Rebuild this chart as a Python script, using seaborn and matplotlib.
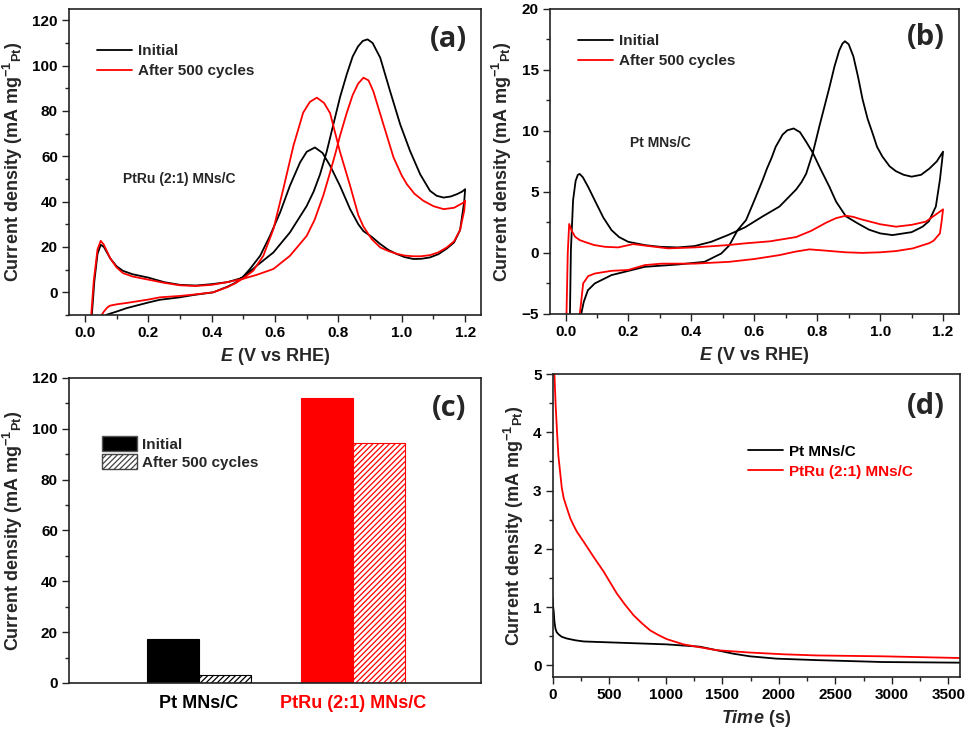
import numpy as np
import pandas as pd
import matplotlib
matplotlib.use("Agg")
import matplotlib.pyplot as plt
import seaborn as sns
from matplotlib.ticker import MultipleLocator
from matplotlib.patches import Patch

# ---------------- (a) PtRu (2:1) MNs/C cyclic voltammograms ----------------
a_init_fwd_E = [0.020, 0.022, 0.030, 0.040, 0.050, 0.060, 0.080, 0.100, 0.120, 0.150, 0.200, 0.250,
                0.300, 0.350, 0.400, 0.450, 0.500, 0.542, 0.595, 0.647, 0.700, 0.722, 0.742, 0.763,
                0.784, 0.805, 0.826, 0.845, 0.862, 0.877, 0.892, 0.908, 0.932, 0.963, 0.995, 1.026,
                1.058, 1.089, 1.110, 1.132, 1.155, 1.174, 1.190, 1.200]
a_init_fwd_j = [-15, -10, 5, 17, 21, 20, 15, 11.5, 9.5, 8, 6.5, 4.5,
                3.3, 3.0, 3.6, 4.5, 6.5, 11.7, 17.6, 26.4, 38.1, 44.5, 52, 62,
                74, 86, 96, 104, 108.5, 110.9, 111.6, 110, 103.5, 88.8, 74.1, 62.4,
                52.1, 44.8, 42.6, 41.8, 42.3, 43.3, 44.4, 45.5]
a_init_bwd_E = [1.200, 1.197, 1.184, 1.165, 1.142, 1.115, 1.089, 1.062, 1.037, 1.010, 0.984, 0.958,
                0.932, 0.905, 0.879, 0.863, 0.837, 0.805, 0.774, 0.750, 0.726, 0.700, 0.679, 0.647,
                0.616, 0.584, 0.553, 0.521, 0.500, 0.475, 0.450, 0.405, 0.342, 0.300, 0.236, 0.200,
                0.131, 0.100, 0.068, 0.060]
a_init_bwd_j = [45.5, 40, 27.5, 22, 19.3, 16.8, 15.4, 14.8, 14.7, 15.5, 16.9, 18.7,
                21.3, 24.5, 27, 30, 36.7, 47, 55.8, 61.5, 63.9, 62, 57.3, 47,
                35.2, 24.9, 16.1, 10.3, 7.0, 4.2, 2.5, 0, -1.2, -2.2, -3.3, -4.5,
                -7, -8.5, -9.9, -11.5]

a_aged_fwd_E = [0.018, 0.020, 0.028, 0.040, 0.050, 0.060, 0.080, 0.100, 0.120, 0.150, 0.200, 0.250,
                0.300, 0.350, 0.400, 0.450, 0.500, 0.542, 0.595, 0.647, 0.700, 0.725, 0.753, 0.774,
                0.790, 0.805, 0.826, 0.845, 0.862, 0.879, 0.895, 0.910, 0.942, 0.974, 1.000, 1.016,
                1.040, 1.068, 1.100, 1.132, 1.165, 1.195, 1.200]
a_aged_fwd_j = [-15, -10, 5, 19, 22.7, 21, 15, 11, 8.5, 7, 5.6, 4.2,
                3.1, 2.8, 3.3, 4.5, 6, 7.7, 10.3, 16.1, 24.9, 32, 43, 53,
                61, 69, 79, 87, 92, 94.7, 93.5, 88.8, 74.1, 59.5, 51.5, 47.7,
                43.5, 40.4, 38, 36.7, 37.3, 39.6, 40.4]
a_aged_bwd_E = [1.200, 1.197, 1.184, 1.165, 1.142, 1.115, 1.089, 1.060, 1.037, 1.010, 0.984, 0.958,
                0.932, 0.905, 0.879, 0.863, 0.837, 0.805, 0.774, 0.755, 0.732, 0.710, 0.689, 0.658,
                0.626, 0.595, 0.563, 0.531, 0.500, 0.475, 0.450, 0.405, 0.342, 0.300, 0.237, 0.200,
                0.131, 0.100, 0.079, 0.070, 0.060, 0.053, 0.048]
a_aged_bwd_j = [40.4, 36, 27.5, 22.5, 19.8, 17.6, 16.4, 15.9, 15.9, 16.2, 17, 18.2,
                19.8, 23.5, 29, 34, 47, 62, 79, 83.5, 85.9, 84, 79.3, 64.6,
                45.5, 27.9, 16.1, 9.5, 6.2, 4, 2.3, 0, -1, -1.6, -2.2, -3.2,
                -4.7, -5.3, -5.9, -6.8, -8.5, -10, -12]

# ---------------- (b) Pt MNs/C cyclic voltammograms ----------------
b_init_fwd_E = [0.012, 0.014, 0.017, 0.024, 0.032, 0.039, 0.045, 0.055, 0.072, 0.093, 0.120, 0.146,
                0.170, 0.199, 0.252, 0.300, 0.357, 0.410, 0.463, 0.516, 0.570, 0.627, 0.680, 0.733,
                0.750, 0.765, 0.786, 0.807, 0.825, 0.839, 0.855, 0.870, 0.880, 0.888, 0.900, 0.915,
                0.930, 0.944, 0.960, 0.976, 0.990, 1.007, 1.030, 1.050, 1.075, 1.100, 1.130, 1.156,
                1.180, 1.200]
b_init_fwd_j = [-6, -5, 0.23, 4.34, 5.9, 6.4, 6.47, 6.2, 5.4, 4.3, 2.9, 1.87,
                1.3, 0.91, 0.64, 0.5, 0.45, 0.56, 0.91, 1.46, 2.09, 3.0, 3.8, 5.2,
                5.8, 6.5, 8.2, 10.4, 12.2, 13.6, 15.3, 16.6, 17.15, 17.35, 17.1, 16.1,
                14.4, 12.6, 11.0, 9.8, 8.7, 7.9, 7.1, 6.7, 6.4, 6.25, 6.4, 6.9,
                7.5, 8.3]
b_init_bwd_E = [1.200, 1.190, 1.177, 1.155, 1.135, 1.100, 1.039, 1.000, 0.965, 0.930, 0.891, 0.860,
                0.839, 0.810, 0.786, 0.765, 0.745, 0.725, 0.705, 0.690, 0.668, 0.655, 0.640, 0.627,
                0.600, 0.574, 0.547, 0.520, 0.495, 0.442, 0.357, 0.252, 0.146, 0.093, 0.071, 0.058,
                0.050, 0.047]
b_init_bwd_j = [8.3, 6.0, 3.8, 2.6, 2.15, 1.7, 1.46, 1.6, 1.9, 2.4, 3.0, 4.2,
                5.4, 6.9, 8.2, 9.1, 9.9, 10.2, 10.05, 9.7, 8.7, 7.8, 6.9, 6.0,
                4.3, 2.7, 1.87, 0.6, -0.05, -0.73, -0.95, -1.14, -1.82, -2.5, -3.06, -4.0,
                -4.97, -6]

b_aged_fwd_E = [0.002, 0.003, 0.007, 0.0115, 0.020, 0.030, 0.045, 0.061, 0.090, 0.125, 0.167, 0.215,
                0.252, 0.326, 0.410, 0.516, 0.570, 0.650, 0.733, 0.780, 0.830, 0.860, 0.891, 0.915,
                0.940, 1.000, 1.050, 1.100, 1.145, 1.200]
b_aged_fwd_j = [-6, -5, 0, 2.37, 1.8, 1.33, 1.05, 0.9, 0.65, 0.5, 0.45, 0.72,
                0.6, 0.37, 0.45, 0.64, 0.78, 0.95, 1.3, 1.8, 2.5, 2.85, 3.05, 2.95,
                2.75, 2.35, 2.15, 2.3, 2.56, 3.57]
b_aged_bwd_E = [1.200, 1.195, 1.190, 1.170, 1.156, 1.104, 1.050, 1.000, 0.944, 0.890, 0.820, 0.775,
                0.730, 0.680, 0.600, 0.521, 0.410, 0.305, 0.252, 0.199, 0.146, 0.093, 0.072, 0.056,
                0.048, 0.045, 0.044]
b_aged_bwd_j = [3.57, 2.5, 1.6, 1.0, 0.8, 0.37, 0.15, 0.05, 0.0, 0.05, 0.2, 0.29,
                0.1, -0.18, -0.5, -0.73, -0.88, -0.88, -1.0, -1.4, -1.47, -1.69, -1.9, -2.5,
                -4.4, -5, -6]

# ---------------- (c) bar chart ----------------
catalysts = ["Pt MNs/C", "PtRu (2:1) MNs/C"]
states = ["Initial", "After 500 cycles"]
initial_vals = [17.35, 112.0]
after_vals = [3.1, 94.6]

# ---------------- (d) chronoamperometry ----------------
d_pt_t = [0, 4, 9, 15, 24, 35, 53, 80, 126, 200, 274, 568, 1009, 1303, 1450, 1597, 1744, 1979,
          2332, 2920, 3600]
d_pt_j = [1.15, 1.0, 0.92, 0.75, 0.63, 0.57, 0.53, 0.49, 0.46, 0.43, 0.41, 0.39, 0.36, 0.32,
          0.26, 0.20, 0.155, 0.115, 0.09, 0.057, 0.046]
d_ptru_t = [5, 15, 25, 38, 50, 68, 80, 97, 125, 156, 185, 215, 274, 362, 450, 568, 640, 715, 790,
            862, 935, 1009, 1156, 1450, 1744, 2038, 2332, 2920, 3600]
d_ptru_j = [5.6, 5.0, 4.5, 4.01, 3.6, 3.27, 3.05, 2.87, 2.7, 2.52, 2.4, 2.29, 2.12, 1.86, 1.61,
            1.23, 1.04, 0.86, 0.72, 0.60, 0.52, 0.45, 0.36, 0.26, 0.22, 0.19, 0.17, 0.155, 0.126]

# ---------------- style ----------------
sns.set_theme(style="white")
plt.rcParams.update({
    "font.family": ["Liberation Sans", "DejaVu Sans"],
    "font.weight": "bold",
    "axes.labelweight": "bold",
    "mathtext.fontset": "custom",
    "mathtext.rm": "Liberation Sans:bold",
    "mathtext.bf": "Liberation Sans:bold",
    "mathtext.it": "Liberation Sans:italic:bold",
    "mathtext.default": "rm",
    "axes.edgecolor": "#222222",
    "axes.linewidth": 1.2,
    "hatch.linewidth": 0.9,
})

RED = "#ff0000"
YLAB = r"Current density (mA mg$^{-1}$$_{\mathrm{Pt}}$)"
TICK_FS = 11
LAB_FS = 13
LEG_FS = 11

fig = plt.figure(figsize=(9.68, 7.30), dpi=100)
ax_a = fig.add_axes([0.0713, 0.5685, 0.4256, 0.4192])
ax_b = fig.add_axes([0.5680, 0.5700, 0.4225, 0.4178])
ax_c = fig.add_axes([0.0713, 0.0644, 0.4256, 0.4178])
ax_d = fig.add_axes([0.5710, 0.0726, 0.4205, 0.4150])


def style_ax(ax, xmaj=None, xmin=None, ymaj=None, ymin=None):
    for s in ax.spines.values():
        s.set_visible(True)
        s.set_color("#222222")
        s.set_linewidth(1.2)
    if xmaj is not None:
        ax.xaxis.set_major_locator(MultipleLocator(xmaj))
    if xmin is not None:
        ax.xaxis.set_minor_locator(MultipleLocator(xmin))
    if ymaj is not None:
        ax.yaxis.set_major_locator(MultipleLocator(ymaj))
    if ymin is not None:
        ax.yaxis.set_minor_locator(MultipleLocator(ymin))
    ax.tick_params(which="both", direction="out", bottom=True, left=True, top=False, right=False,
                   colors="#222222", labelcolor="black", width=1.0)
    ax.tick_params(which="major", length=5, labelsize=TICK_FS, pad=3)
    ax.tick_params(which="minor", length=3)
    for lab in ax.get_xticklabels() + ax.get_yticklabels():
        lab.set_fontweight("bold")
    ax.grid(False)


def cv(ax, fE, fj, bE, bj, color, label):
    df = pd.DataFrame({"E": list(fE) + list(bE), "j": list(fj) + list(bj)})
    sns.lineplot(data=df, x="E", y="j", sort=False, estimator=None, color=color, lw=1.3,
                 label=label, ax=ax)


def line_legend(ax, anchor, colors=None):
    kw = {}
    if colors is not None:
        kw["labelcolor"] = colors
    ax.legend(loc="upper left", bbox_to_anchor=anchor, frameon=False,
              borderpad=0, borderaxespad=0, handlelength=2.3, handletextpad=0.4,
              labelspacing=0.4, prop={"weight": "bold", "size": LEG_FS}, **kw)


# (a)
cv(ax_a, a_init_fwd_E, a_init_fwd_j, a_init_bwd_E, a_init_bwd_j, "black", "Initial")
cv(ax_a, a_aged_fwd_E, a_aged_fwd_j, a_aged_bwd_E, a_aged_bwd_j, RED, "After 500 cycles")
ax_a.set_xlim(-0.05, 1.25)
ax_a.set_ylim(-10, 125)
style_ax(ax_a, 0.2, 0.1, 20, 10)
ax_a.set_xlabel(r"$\mathit{E}$ (V vs RHE)", fontsize=LAB_FS, fontweight="bold", labelpad=4)
ax_a.set_ylabel(YLAB, fontsize=LAB_FS, fontweight="bold", labelpad=5)
line_legend(ax_a, (0.068, 0.885))
ax_a.text(0.131, 0.444, "PtRu (2:1) MNs/C", transform=ax_a.transAxes, fontsize=10,
          fontweight="bold", ha="left", va="center")
ax_a.text(0.92, 0.90, "(a)", transform=ax_a.transAxes, fontsize=21, fontweight="bold",
          family=["Open Sans", "DejaVu Sans"], ha="center", va="center")

# (b)
cv(ax_b, b_init_fwd_E, b_init_fwd_j, b_init_bwd_E, b_init_bwd_j, "black", "Initial")
cv(ax_b, b_aged_fwd_E, b_aged_fwd_j, b_aged_bwd_E, b_aged_bwd_j, RED, "After 500 cycles")
ax_b.set_xlim(-0.05, 1.25)
ax_b.set_ylim(-5, 20)
style_ax(ax_b, 0.2, 0.1, 5, 2.5)
ax_b.set_xlabel(r"$\mathit{E}$ (V vs RHE)", fontsize=LAB_FS, fontweight="bold", labelpad=4)
ax_b.set_ylabel(YLAB, fontsize=LAB_FS, fontweight="bold", labelpad=5)
line_legend(ax_b, (0.068, 0.918))
ax_b.text(0.197, 0.56, "Pt MNs/C", transform=ax_b.transAxes, fontsize=10,
          fontweight="bold", ha="left", va="center")
ax_b.text(0.919, 0.905, "(b)", transform=ax_b.transAxes, fontsize=21, fontweight="bold",
          family=["Open Sans", "DejaVu Sans"], ha="center", va="center")

# (c)
bar_df = pd.DataFrame({
    "catalyst": catalysts * 2,
    "state": [states[0]] * len(catalysts) + [states[1]] * len(catalysts),
    "value": initial_vals + after_vals,
})
sns.barplot(data=bar_df, x="catalyst", y="value", hue="state", hue_order=states,
            order=catalysts, width=0.675, saturation=1, legend=False, ax=ax_c)
cat_colors = ["black", RED]
for k, bar in enumerate(ax_c.containers[0]):
    bar.set_facecolor(cat_colors[k])
    bar.set_edgecolor(cat_colors[k])
    bar.set_linewidth(0.8)
for k, bar in enumerate(ax_c.containers[1]):
    bar.set_facecolor("white")
    bar.set_edgecolor(cat_colors[k])
    bar.set_hatch("//////")
    bar.set_linewidth(0.8)
ax_c.set_xlim(-0.84, 1.83)
ax_c.set_ylim(0, 120)
style_ax(ax_c, None, None, 20, 10)
ax_c.tick_params(axis="x", which="both", length=0, labelsize=LAB_FS, pad=9)
for lab, col in zip(ax_c.get_xticklabels(), cat_colors):
    lab.set_color(col)
    lab.set_fontweight("bold")
ax_c.set_xlabel("")
ax_c.set_ylabel(YLAB, fontsize=LAB_FS, fontweight="bold", labelpad=5)
handles = [Patch(facecolor="black", edgecolor="#555555", linewidth=1.0, label=states[0]),
           Patch(facecolor="white", edgecolor="#444444", hatch="//////", linewidth=1.0, label=states[1])]
ax_c.legend(handles=handles, loc="upper left", bbox_to_anchor=(0.08, 0.81), frameon=False,
            borderpad=0, borderaxespad=0, handlelength=2.3, handleheight=1.15, handletextpad=0.35,
            labelspacing=0.15, prop={"weight": "bold", "size": LEG_FS})
ax_c.text(0.922, 0.90, "(c)", transform=ax_c.transAxes, fontsize=21, fontweight="bold",
          family=["Open Sans", "DejaVu Sans"], ha="center", va="center")

# (d)
sns.lineplot(x=d_pt_t, y=d_pt_j, sort=False, estimator=None, color="black", lw=1.3,
             label="Pt MNs/C", ax=ax_d)
sns.lineplot(x=d_ptru_t, y=d_ptru_j, sort=False, estimator=None, color=RED, lw=1.3,
             label="PtRu (2:1) MNs/C", ax=ax_d)
ax_d.set_xlim(0, 3600)
ax_d.set_ylim(-0.2, 5)
style_ax(ax_d, 500, 250, 1, 0.5)
ax_d.set_xlabel(r"$\mathit{Time}$ (s)", fontsize=LAB_FS, fontweight="bold", labelpad=4)
ax_d.set_ylabel(YLAB, fontsize=LAB_FS, fontweight="bold", labelpad=5)
line_legend(ax_d, (0.48, 0.767), colors=["black", RED])
ax_d.text(0.916, 0.892, "(d)", transform=ax_d.transAxes, fontsize=21, fontweight="bold",
          family=["Open Sans", "DejaVu Sans"], ha="center", va="center")

fig.savefig("out.png", dpi=100)
